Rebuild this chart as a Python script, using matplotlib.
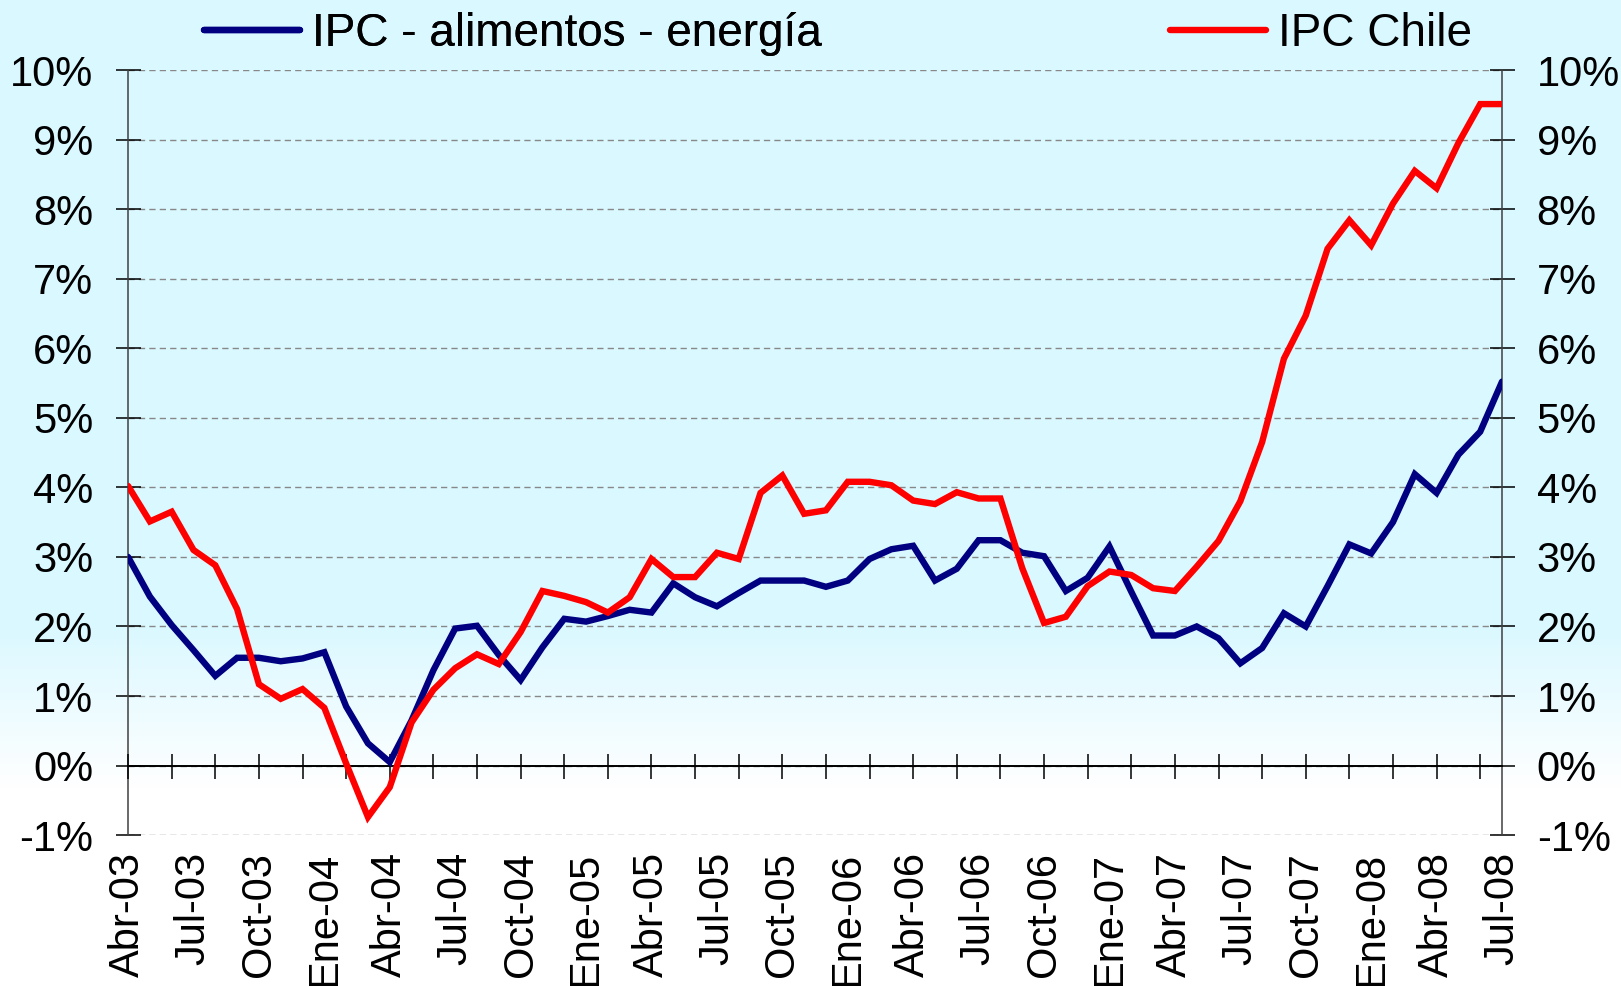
import numpy as np
import matplotlib
matplotlib.use('Agg')
import matplotlib.pyplot as plt
from matplotlib.lines import Line2D
from matplotlib.colors import LinearSegmentedColormap

plt.rcParams['font.family'] = ['Liberation Sans', 'DejaVu Sans']

# months Abr-03 .. Jul-08
month_names = ['Ene', 'Feb', 'Mar', 'Abr', 'May', 'Jun', 'Jul', 'Ago', 'Sep', 'Oct', 'Nov', 'Dic']
months = []
for year in range(2003, 2009):
    for m in range(12):
        if (year == 2003 and m < 3) or (year == 2008 and m > 6):
            continue
        months.append(f'{month_names[m]}-{str(year)[2:]}')

# IPC sin alimentos ni energia (% a/a)
ipc_core = [3.00, 2.43, 2.02, 1.66, 1.29, 1.55, 1.55, 1.50, 1.54, 1.63,
            0.85, 0.32, 0.05, 0.65, 1.37, 1.97, 2.01, 1.59, 1.23, 1.70,
            2.11, 2.07, 2.15, 2.24, 2.20, 2.62, 2.42, 2.29, 2.48, 2.66,
            2.66, 2.66, 2.57, 2.66, 2.97, 3.11, 3.16, 2.66, 2.83, 3.24,
            3.24, 3.06, 3.01, 2.51, 2.70, 3.15, 2.50, 1.87, 1.87, 2.00,
            1.83, 1.47, 1.69, 2.19, 2.00, 2.58, 3.18, 3.05, 3.50, 4.19,
            3.92, 4.47, 4.80, 5.52]

# IPC Chile (% a/a)
ipc_chile = [4.02, 3.51, 3.65, 3.10, 2.88, 2.25, 1.17, 0.96, 1.10, 0.83,
             0.03, -0.74, -0.31, 0.62, 1.09, 1.40, 1.60, 1.46, 1.92, 2.51,
             2.44, 2.35, 2.20, 2.42, 2.97, 2.71, 2.71, 3.06, 2.97, 3.92,
             4.17, 3.62, 3.67, 4.08, 4.08, 4.03, 3.81, 3.76, 3.93, 3.84,
             3.84, 2.84, 2.05, 2.14, 2.58, 2.79, 2.74, 2.55, 2.51, 2.86,
             3.23, 3.80, 4.65, 5.85, 6.47, 7.43, 7.84, 7.48, 8.08, 8.55,
             8.30, 8.95, 9.51, 9.51]

y_ticks = list(range(-1, 11))

x = np.arange(len(months))

fig = plt.figure(figsize=(16.21, 9.86), dpi=100)

# background: light cyan fading to white at the bottom
bg_ax = fig.add_axes([0, 0, 1, 1], zorder=-10)
rows = np.linspace(0, 1, 986)
fade = np.clip((rows - 0.63) / (0.80 - 0.63), 0, 1)
bg = np.repeat(fade[:, None], 10, axis=1)
cmap = LinearSegmentedColormap.from_list('bg', ['#d9f8ff', '#ffffff'])
bg_ax.imshow(bg, cmap=cmap, aspect='auto', extent=[0, 1, 0, 1], vmin=0, vmax=1)
bg_ax.axis('off')

ax = fig.add_axes([0.079, 0.153, 0.8476, 0.776])
ax.patch.set_alpha(0)

blue_line, = ax.plot(x, ipc_core, color='#000080', lw=4.6, solid_capstyle='round',
                     solid_joinstyle='miter', zorder=4)
red_line, = ax.plot(x, ipc_chile, color='#ff0000', lw=4.6, solid_capstyle='round',
                    solid_joinstyle='miter', zorder=5)

ax.set_xlim(0, len(months) - 1)
ax.set_ylim(-1, 10)

# y axis both sides
ax.set_yticks(y_ticks)
ax.set_yticklabels([f'{v}%' for v in y_ticks])
ax.tick_params(axis='y', which='both', direction='inout', length=18, width=1.1,
               left=True, right=True, labelleft=True, labelright=True,
               labelsize=30, pad=16)
ax.yaxis.grid(True, color='#888888', lw=1.0, linestyle=(0, (4.5, 3)))
ax.set_axisbelow(True)

# category labels every three months
label_idx = x[::3]
ax.set_xticks(label_idx)
ax.set_xticklabels([months[i] for i in label_idx], rotation=90, va='top', ha='center')
ax.tick_params(axis='x', length=0, labelsize=30, pad=12)

for side in ['top', 'bottom']:
    ax.spines[side].set_visible(False)
for side in ['left', 'right']:
    ax.spines[side].set_color('#404040')
    ax.spines[side].set_linewidth(1.1)

# zero line with tick marks every two months
zero_ax = ax.secondary_xaxis(1 / 11)
zero_ax.set_zorder(3)
zero_ax.set_xticks(x[::2])
zero_ax.tick_params(direction='inout', length=18, width=1.1, labelbottom=False,
                    labeltop=False)
zero_ax.spines['bottom'].set_linewidth(1.4)
zero_ax.spines['bottom'].set_color('black')
zero_ax.spines['bottom'].set_zorder(3)

# legends at top
h1 = Line2D([], [], color='#000080', lw=4.6, solid_capstyle='round')
h2 = Line2D([], [], color='#ff0000', lw=4.6, solid_capstyle='round')
leg1 = fig.legend([h1], ['IPC - alimentos - energía'], loc='center left',
                  bbox_to_anchor=(204 / 1621, 1 - 34 / 986), frameon=False,
                  fontsize=33, handlelength=2.1, handletextpad=0.25,
                  borderpad=0, borderaxespad=0)
leg2 = fig.legend([h2], ['IPC Chile'], loc='center left',
                  bbox_to_anchor=(1170 / 1621, 1 - 34 / 986), frameon=False,
                  fontsize=33, handlelength=2.1, handletextpad=0.25,
                  borderpad=0, borderaxespad=0)
fig.add_artist(leg1)

fig.savefig('out.png', dpi=100)
